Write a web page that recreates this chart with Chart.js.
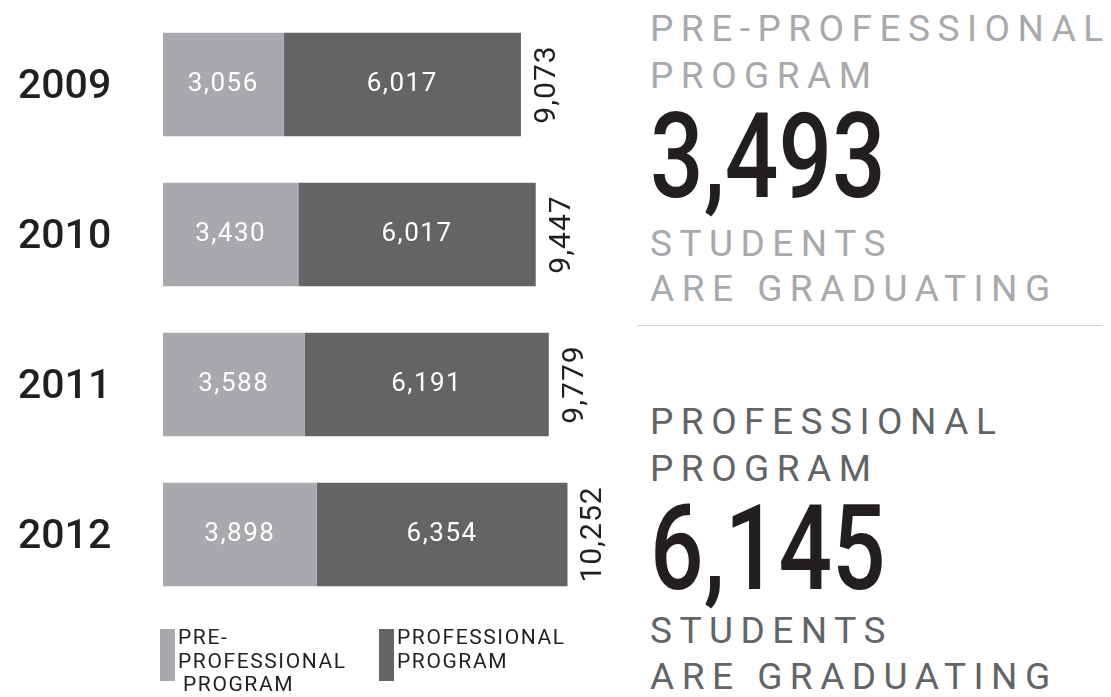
<!DOCTYPE html>
<html>
<head>
<meta charset="utf-8">
<script src="https://cdn.jsdelivr.net/npm/chart.js@4"></script>
<style>
  html, body { margin: 0; padding: 0; background: #fff; }
  body { width: 1111px; height: 697px; position: relative; overflow: hidden; font-family: Roboto, 'DejaVu Sans', sans-serif; }
  #chart-wrap { position: absolute; left: 0; top: 0; width: 620px; height: 697px; }
  .side { position: absolute; left: 650px; white-space: nowrap; }
  .kicker { font-size: 37px; line-height: 37px; letter-spacing: 7.5px; }
  .pre { color: #a7a9ac; }
  .pro { color: #636466; }
  .big { font-size: 118px; line-height: 118px; font-weight: 500; color: #231f20; transform: scaleX(0.8); transform-origin: left top; }
  .rule { position: absolute; left: 638px; top: 325px; width: 465px; height: 1px; background: #d1d3d4; }
  .swatch { position: absolute; top: 629px; width: 15px; height: 52px; }
  .legend-text { position: absolute; top: 626px; font-size: 21px; line-height: 23.5px; letter-spacing: 1.6px; color: #231f20; white-space: nowrap; }
</style>
</head>
<body>
<div id="chart-wrap"><canvas id="gradChart"></canvas></div>

<div class="side kicker pre" style="top:10px">PRE-PROFESSIONAL</div>
<div class="side kicker pre" style="top:57px">PROGRAM</div>
<div class="side big" style="top:98px">3,493</div>
<div class="side kicker pre" style="top:225px">STUDENTS</div>
<div class="side kicker pre" style="top:270px">ARE GRADUATING</div>
<div class="rule"></div>
<div class="side kicker pro" style="top:403px">PROFESSIONAL</div>
<div class="side kicker pro" style="top:450px">PROGRAM</div>
<div class="side big" style="top:490px">6,145</div>
<div class="side kicker pro" style="top:612px">STUDENTS</div>
<div class="side kicker pro" style="top:658px">ARE GRADUATING</div>

<div class="swatch" style="left:160px; background:#a7a9ac"></div>
<div class="legend-text" style="left:178px">PRE-<br>PROFESSIONAL<br><span style="padding-left:5px">PROGRAM</span></div>
<div class="swatch" style="left:379px; background:#636466"></div>
<div class="legend-text" style="left:397px">PROFESSIONAL<br>PROGRAM</div>

<script>
// Data
const years = ['2009', '2010', '2011', '2012'];
const preProfessional = [3056, 3430, 3588, 3898];
const professional = [6017, 6017, 6191, 6354];
const totals = [9073, 9447, 9779, 10252];

const LIGHT = '#a7a9ac';
const DARK = '#636466';
const INK = '#231f20';

const fmt = v => v.toLocaleString('en-US');

// white numbers inside the bars + rotated totals at the end
const barLabels = {
  id: 'barLabels',
  afterDatasetsDraw(chart) {
    const ctx = chart.ctx;
    ctx.save();
    ctx.font = '400 26px Roboto';
    ctx.letterSpacing = '1.5px';
    ctx.fillStyle = '#fff';
    ctx.textAlign = 'center';
    ctx.textBaseline = 'middle';
    chart.data.datasets.forEach((ds, i) => {
      chart.getDatasetMeta(i).data.forEach((bar, j) => {
        ctx.fillText(fmt(ds.data[j]), (bar.x + bar.base) / 2, bar.y);
      });
    });

    ctx.fillStyle = INK;
    ctx.font = '400 30px Roboto';
    ctx.letterSpacing = '1px';
    ctx.textBaseline = 'alphabetic';
    chart.getDatasetMeta(1).data.forEach((bar, j) => {
      ctx.save();
      ctx.translate(bar.x + 34, bar.y);
      ctx.rotate(-Math.PI / 2);
      ctx.fillText(fmt(totals[j]), 0, 0);
      ctx.restore();
    });
    ctx.restore();
  }
};

const ctx = document.getElementById('gradChart').getContext('2d');
new Chart(ctx, {
  type: 'bar',
  data: {
    labels: years,
    datasets: [
      { label: 'Pre-Professional Program', data: preProfessional, backgroundColor: LIGHT, borderWidth: 0 },
      { label: 'Professional Program', data: professional, backgroundColor: DARK, borderWidth: 0 }
    ]
  },
  options: {
    indexAxis: 'y',
    responsive: true,
    maintainAspectRatio: false,
    animation: false,
    layout: { padding: { left: 18, top: 9.5, bottom: 87.5, right: 23 } },
    datasets: { bar: { categoryPercentage: 0.69, barPercentage: 1 } },
    scales: {
      x: { stacked: true, min: 0, max: 11000, display: false },
      y: {
        stacked: true,
        grid: { display: false, drawTicks: false },
        border: { display: false },
        afterFit: s => { s.width = 145; s.paddingTop = 0; s.paddingBottom = 0; },
        ticks: {
          crossAlign: 'far',
          labelOffset: 3,
          color: INK,
          font: { family: 'Roboto', size: 41, weight: '500' }
        }
      }
    },
    plugins: {
      legend: { display: false },
      tooltip: { enabled: false }
    }
  },
  plugins: [barLabels]
});
</script>
</body>
</html>
